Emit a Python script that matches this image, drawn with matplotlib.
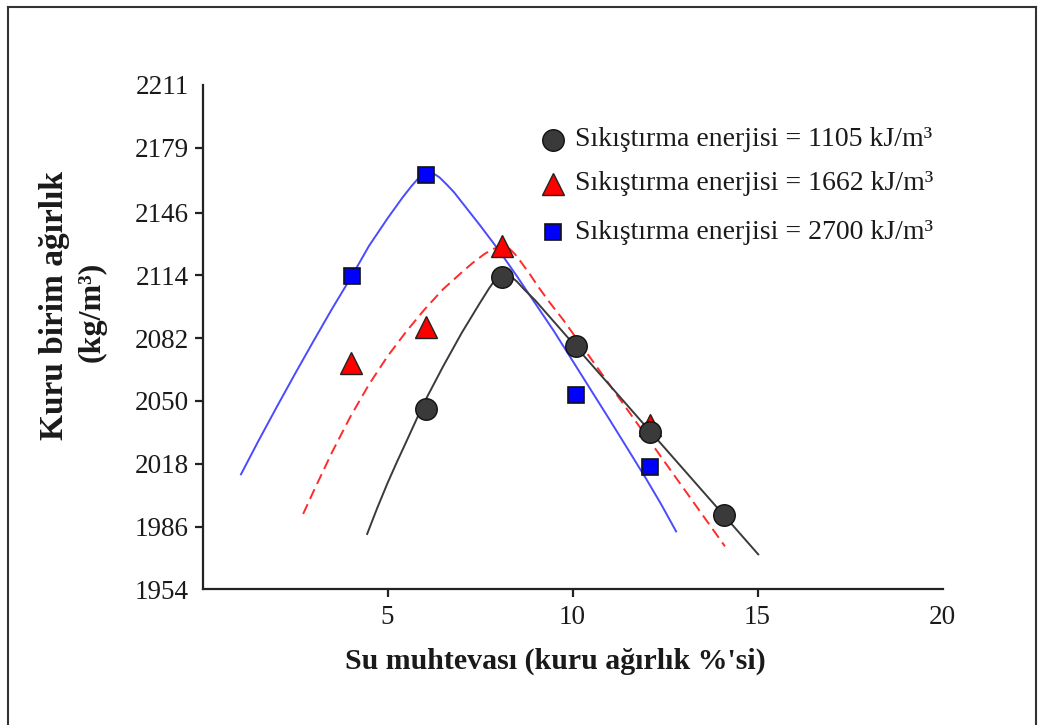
import matplotlib
matplotlib.use("Agg")
import matplotlib.pyplot as plt
from matplotlib.lines import Line2D

plt.rcParams['font.family'] = ['Liberation Serif', 'DejaVu Serif']

# Measured compaction points: water content (%) and dry unit weight (kg/m³)
w_1105 = [6.05, 8.1, 10.1, 12.1, 14.1]
d_1105 = [2045.8, 2113.4, 2078.1, 2034.4, 1991.9]

w_1662 = [4.0, 6.05, 8.1, 12.1]
d_1662 = [2069.4, 2087.9, 2129.1, 2037.8]

w_2700 = [4.05, 6.05, 10.1, 12.1]
d_2700 = [2113.9, 2164.9, 2052.9, 2016.5]

# Fitted compaction curves
cw_1105 = [4.45, 4.72, 5.0, 5.25, 5.5, 6.0, 6.5, 7.0, 7.5, 7.75, 7.9, 8.05,
           8.2, 8.35, 8.5, 8.7, 8.99, 12.0, 15.02]
cd_1105 = [1982.2, 1995.3, 2008.1, 2018.7, 2028.9, 2049.5, 2067.5, 2084.5,
           2100.0, 2107.5, 2111.5, 2114.0, 2114.8, 2113.2, 2110.8, 2106.7,
           2101.3, 2036.6, 1971.8]

cw_1662 = [2.72, 3.0, 3.5, 4.0, 4.5, 5.0, 5.5, 6.0, 6.5, 7.0, 7.3, 7.6,
           7.8, 8.0, 8.15, 8.3, 8.45, 8.6, 8.85, 9.1, 9.39, 9.75, 12.0, 14.12]
cd_1662 = [1992.4, 2003.9, 2023.8, 2042.1, 2058.4, 2072.7, 2085.2, 2096.6,
           2106.9, 2115.4, 2120.3, 2124.6, 2127.0, 2128.5, 2128.8, 2127.5,
           2124.7, 2121.0, 2114.5, 2107.5, 2100.0, 2091.3, 2031.9, 1975.9]

cw_2700 = [1.04, 1.5, 2.0, 2.5, 3.0, 3.5, 4.04, 4.5, 5.0, 5.4, 5.65, 5.85,
           6.0, 6.12, 6.25, 6.4, 6.6, 6.8, 7.0, 7.5, 8.0, 8.5, 9.0, 9.5,
           10.0, 10.5, 11.0, 11.5, 12.0, 12.4, 12.8]
cd_2700 = [2012.6, 2029.2, 2046.7, 2063.8, 2080.5, 2096.9, 2113.8, 2129.0,
           2143.0, 2153.5, 2159.5, 2163.8, 2165.8, 2166.3, 2165.8, 2164.0,
           2160.3, 2156.3, 2151.5, 2139.5, 2127.0, 2113.5, 2099.5, 2085.5,
           2070.5, 2055.5, 2040.5, 2025.3, 2010.0, 1997.2, 1983.5]

labels = ["Sıkıştırma enerjisi = 1105 kJ/m³",
          "Sıkıştırma enerjisi = 1662 kJ/m³",
          "Sıkıştırma enerjisi = 2700 kJ/m³"]

y_ticks = [1954, 1986, 2018, 2050, 2082, 2114, 2146, 2179, 2211]
x_ticks = [5, 10, 15, 20]

W, H = 1043, 725
fig = plt.figure(figsize=(W / 100, H / 100), dpi=100)
ax = fig.add_axes([202.5 / W, (H - 589.3) / H, 740 / W, 504.3 / H])

c_red = '#ff2a2a'
c_blue = '#4a4aff'

# curves
ax.plot(cw_2700, cd_2700, color=c_blue, lw=1.4, zorder=2)
ax.plot(cw_1662, cd_1662, color=c_red, lw=1.4, dashes=(5.5, 3), zorder=2)
ax.plot(cw_1105, cd_1105, color='#3a3a3a', lw=1.4, zorder=2)

# measured points
ax.plot(w_1105, d_1105, ls='none', marker='o', ms=15.5, mfc='#3a3a3a',
        mec='#111111', mew=1.0, zorder=4)
ax.plot(w_1662, d_1662, ls='none', marker='^', ms=15.5, mfc='#ff0000',
        mec='#222222', mew=1.0, zorder=3)
ax.plot(w_2700, d_2700, ls='none', marker='s', ms=11.5, mfc='#0000ff',
        mec='#111111', mew=1.2, zorder=4)

# legend entries
leg_x = 0.4736
leg_tx = 0.5034
leg_y = [0.891, 0.8037, 0.7085]
styles = [dict(marker='o', ms=15.5, mfc='#3a3a3a', mec='#111111', mew=1.0),
          dict(marker='^', ms=16, mfc='#ff0000', mec='#222222', mew=1.0),
          dict(marker='s', ms=11, mfc='#0000ff', mec='#111111', mew=1.2)]
for yy, st, lab in zip(leg_y, styles, labels):
    ax.plot([leg_x], [yy], transform=ax.transAxes, ls='none', clip_on=False,
            zorder=5, **st)
    ax.text(leg_tx, yy, lab, transform=ax.transAxes, fontsize=20,
            va='center', ha='left', color='#1a1a1a')

ax.set_xlim(0, 20)
ax.set_ylim(1954, 2211)
ax.set_xticks(x_ticks)
ax.set_xticklabels([str(v) for v in x_ticks])
ax.set_yticks(y_ticks)
ax.set_yticklabels([str(v) for v in y_ticks])

for side in ('top', 'right'):
    ax.spines[side].set_visible(False)
for side in ('left', 'bottom'):
    ax.spines[side].set_linewidth(1.6)
    ax.spines[side].set_color('#222222')

ax.tick_params(axis='both', direction='out', length=6, width=1.6,
               color='#222222', labelsize=19.5, labelcolor='#1a1a1a', pad=4)
ax.tick_params(axis='x', pad=5)
# end ticks carry labels only
ax.yaxis.get_major_ticks()[0].tick1line.set_visible(False)
ax.yaxis.get_major_ticks()[-1].tick1line.set_visible(False)
ax.xaxis.get_major_ticks()[-1].tick1line.set_visible(False)

# axis titles
fig.text(555 / W, 1 - 661 / H, "Su muhtevası (kuru ağırlık %'si)",
         fontsize=21.5, fontweight='bold', ha='center', va='center',
         color='#1a1a1a')
fig.text(55 / W, 1 - 306 / H, "Kuru birim ağırlık", rotation=90,
         fontsize=24, fontweight='bold', ha='center', va='center',
         color='#1a1a1a')
fig.text(92 / W, 1 - 312 / H, "(kg/m³)", rotation=90,
         fontsize=23, fontweight='bold', ha='center', va='center',
         color='#1a1a1a')

# outer frame
frame_kw = dict(color='#333333', lw=1.5, transform=fig.transFigure)
fig.add_artist(Line2D([8 / W, 8 / W], [0, 1 - 7 / H], **frame_kw))
fig.add_artist(Line2D([8 / W, 1036 / W], [1 - 7 / H, 1 - 7 / H], **frame_kw))
fig.add_artist(Line2D([1036 / W, 1036 / W], [0, 1 - 7 / H], **frame_kw))

fig.savefig("out.png", dpi=100)
